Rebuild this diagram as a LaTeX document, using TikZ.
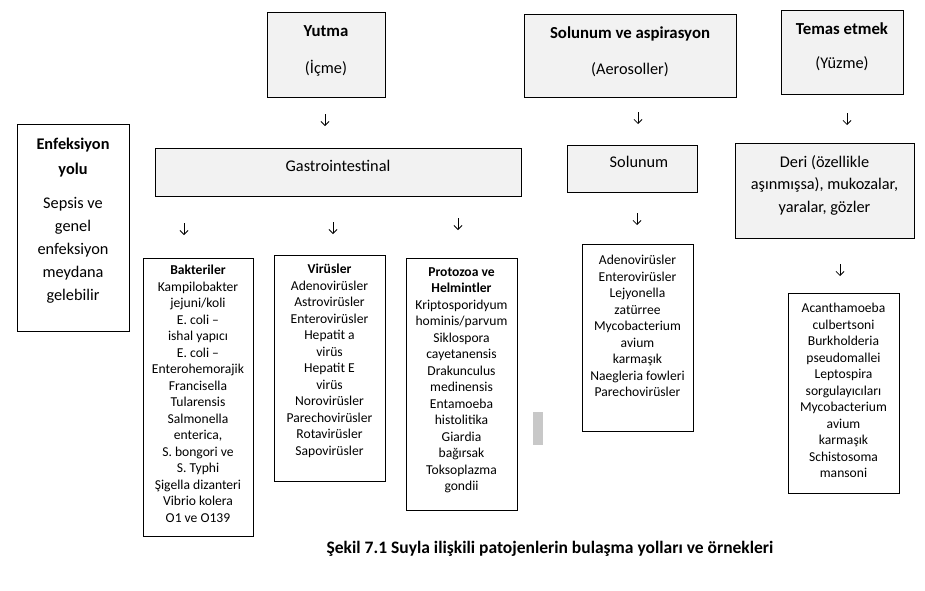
\documentclass[tikz,border=0pt]{standalone}
\usepackage{fontspec}
\setmainfont{Carlito}
\usetikzlibrary{arrows.meta}
\definecolor{boxgray}{HTML}{F2F2F2}
\definecolor{bargray}{HTML}{C8C8C8}
\tikzset{
  box/.style={draw=black, line width=1pt, fill=boxgray, inner sep=0pt},
  wbox/.style={box, fill=white},
  big/.style={align=center, inner sep=0pt, font=\fontsize{16.3}{22.5}\selectfont},
  small/.style={align=center, inner sep=0pt, font=\fontsize{13.6}{16.5}\selectfont},
  arr/.style={line width=0.8pt, -{Straight Barb[length=4pt,width=8pt]}},
}
\begin{document}
\begin{tikzpicture}[x=1pt,y=-1pt]
\useasboundingbox (0,0) rectangle (925,590);
% top boxes
\node[box, minimum width=118, minimum height=85] (yutma) at (326,54.5) {};
\node[big, anchor=north] (yutma-t) at (326,25.5) {\textbf{\fontsize{16.8}{22.5}\selectfont Yutma}\\[14pt](İçme)};
\node[box, minimum width=212, minimum height=83] (solasp) at (630,55.5) {};
\node[big, anchor=north] (solasp-t) at (630,26.5) {\textbf{\fontsize{16.8}{22.5}\selectfont Solunum ve aspirasyon}\\[14pt](Aerosoller)};
\node[box, minimum width=122, minimum height=84] (temas) at (842,52) {};
\node[big, anchor=north] (temas-t) at (842,22.5) {\textbf{\fontsize{16.8}{22.5}\selectfont Temas etmek}\\[12pt](Yüzme)};
% left box
\node[wbox, minimum width=112, minimum height=207] (enf) at (73,227.5) {};
\node[big, anchor=north, font=\fontsize{16.3}{23}\selectfont] (enf-t) at (73,138) {\textbf{Enfeksiyon}\\[2pt]\textbf{yolu}\\[11pt]Sepsis ve\\genel\\enfeksiyon\\meydana\\gelebilir};
% middle row
\node[box, minimum width=366, minimum height=48] (gastro) at (338,172) {};
\node[big] (gastro-t) at (338,166) {Gastrointestinal};
\node[box, minimum width=130, minimum height=47] (sol) at (632,168.5) {};
\node[big] (sol-t) at (639,162) {Solunum};
\node[box, minimum width=179, minimum height=95] (deri) at (824.5,190.5) {};
\node[big, anchor=north] (deri-t) at (824.5,155) {Deri (özellikle\\aşınmışsa), mukozalar,\\yaralar, gözler};
% lists
\node[wbox, minimum width=110, minimum height=278] (bak) at (198,397) {};
\node[small, anchor=north] (bak-t) at (198,265) {\textbf{Bakteriler}\\Kampilobakter\\jejuni/koli\\E. coli –\\ishal yapıcı\\E. coli –\\Enterohemorajik\\Francisella\\Tularensis\\Salmonella\\enterica,\\S. bongori ve\\S. Typhi\\Şigella dizanteri\\Vibrio kolera\\O1 ve O139};
\node[wbox, minimum width=111, minimum height=226] (vir) at (329.5,368) {};
\node[small, anchor=north] (vir-t) at (329.5,264) {\textbf{Virüsler}\\Adenovirüsler\\Astrovirüsler\\Enterovirüsler\\Hepatit a\\virüs\\Hepatit E\\virüs\\Norovirüsler\\Parechovirüsler\\Rotavirüsler\\Sapovirüsler};
\node[wbox, minimum width=111, minimum height=252] (pro) at (461.5,384) {};
\node[small, anchor=north] (pro-t) at (461.5,267) {\textbf{Protozoa ve}\\\textbf{Helmintler}\\Kriptosporidyum\\hominis/parvum\\Siklospora\\cayetanensis\\Drakunculus\\medinensis\\Entamoeba\\histolitika\\Giardia\\bağırsak\\Toksoplazma\\gondii};
\node[wbox, minimum width=111, minimum height=187] (soll) at (637.5,337.5) {};
\node[small, anchor=north] (soll-t) at (637.5,255) {Adenovirüsler\\Enterovirüsler\\Lejyonella\\zatürree\\Mycobacterium\\avium\\karmaşık\\Naegleria fowleri\\Parechovirüsler};
\node[wbox, minimum width=111, minimum height=200] (teml) at (843.5,393) {};
\node[small, anchor=north] (teml-t) at (843.5,303) {Acanthamoeba\\culbertsoni\\Burkholderia\\pseudomallei\\Leptospira\\sorgulayıcıları\\Mycobacterium\\avium\\karmaşık\\Schistosoma\\mansoni};
% gray bar
\node[fill=bargray, inner sep=0pt, minimum width=10, minimum height=33] (bar) at (538,428.5) {};
% arrows
\coordinate (a1s) at (325,114); \coordinate (a1e) at (325,126);
\coordinate (a2s) at (638,112); \coordinate (a2e) at (638,124);
\coordinate (a3s) at (847,113); \coordinate (a3e) at (847,125);
\coordinate (a4s) at (184,223); \coordinate (a4e) at (184,235);
\coordinate (a5s) at (333,222); \coordinate (a5e) at (333,234);
\coordinate (a6s) at (458,218); \coordinate (a6e) at (458,230);
\coordinate (a7s) at (637,213); \coordinate (a7e) at (637,225);
\coordinate (a8s) at (840,264); \coordinate (a8e) at (840,276);
\foreach \i in {1,...,8} {\draw[arr] (a\i s) -- (a\i e);}
% caption
\node[inner sep=0pt, font=\bfseries\fontsize{17.5}{20}\selectfont] (cap) at (550,549) {Şekil 7.1 Suyla ilişkili patojenlerin bulaşma yolları ve örnekleri};
\end{tikzpicture}
\end{document}
